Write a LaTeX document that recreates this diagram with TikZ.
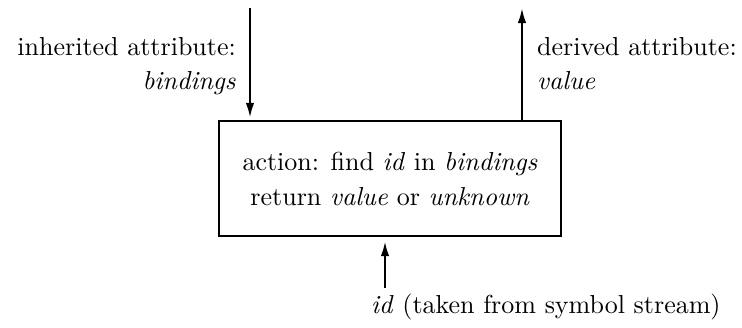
\documentclass[tikz,border=0pt]{standalone}
\usepackage{fontspec}
\setmainfont{lmroman10}[Extension=.otf,UprightFont=*-regular,ItalicFont=*-italic,BoldFont=*-bold,BoldItalicFont=*-bolditalic]
\usetikzlibrary{arrows.meta}
\begin{document}
\begin{tikzpicture}[x=1pt,y=-1pt,
  lbl/.style={inner sep=0pt,font=\fontsize{26}{35}\selectfont},
  conn/.style={line width=2.3pt,-{Latex[length=15pt,width=8.5pt]}},
  actbox/.style={draw,line width=2.3pt,minimum width=342pt,minimum height=115pt,align=center,inner sep=0pt,font=\fontsize{26}{35}\selectfont}]
\useasboundingbox (0,0) rectangle (742,327);
\node[actbox] (box) at (390,178.5) {action: find \textit{id} in \textit{bindings}\\return \textit{value} or \textit{unknown}};
\node[lbl,anchor=base east] (inh) at (236,55) {inherited attribute:};
\node[lbl,anchor=base east] (bind) at (236,89) {\textit{bindings}};
\node[lbl,anchor=base west] (der) at (537,55) {derived attribute:};
\node[lbl,anchor=base west] (val) at (537,89) {\textit{value}};
\node[lbl,anchor=base west] (idt) at (371,313) {\textit{id} (taken from symbol stream)};
\coordinate (lt) at (250,8);
\coordinate (rt) at (522,8);
\coordinate (bt) at (385,288);
\draw[conn,shorten >=2pt] (lt) -- (lt |- box.north);
\draw[conn] (rt |- box.north) -- (rt);
\draw[conn,shorten >=4pt] (bt) -- (bt |- box.south);
\end{tikzpicture}
\end{document}
